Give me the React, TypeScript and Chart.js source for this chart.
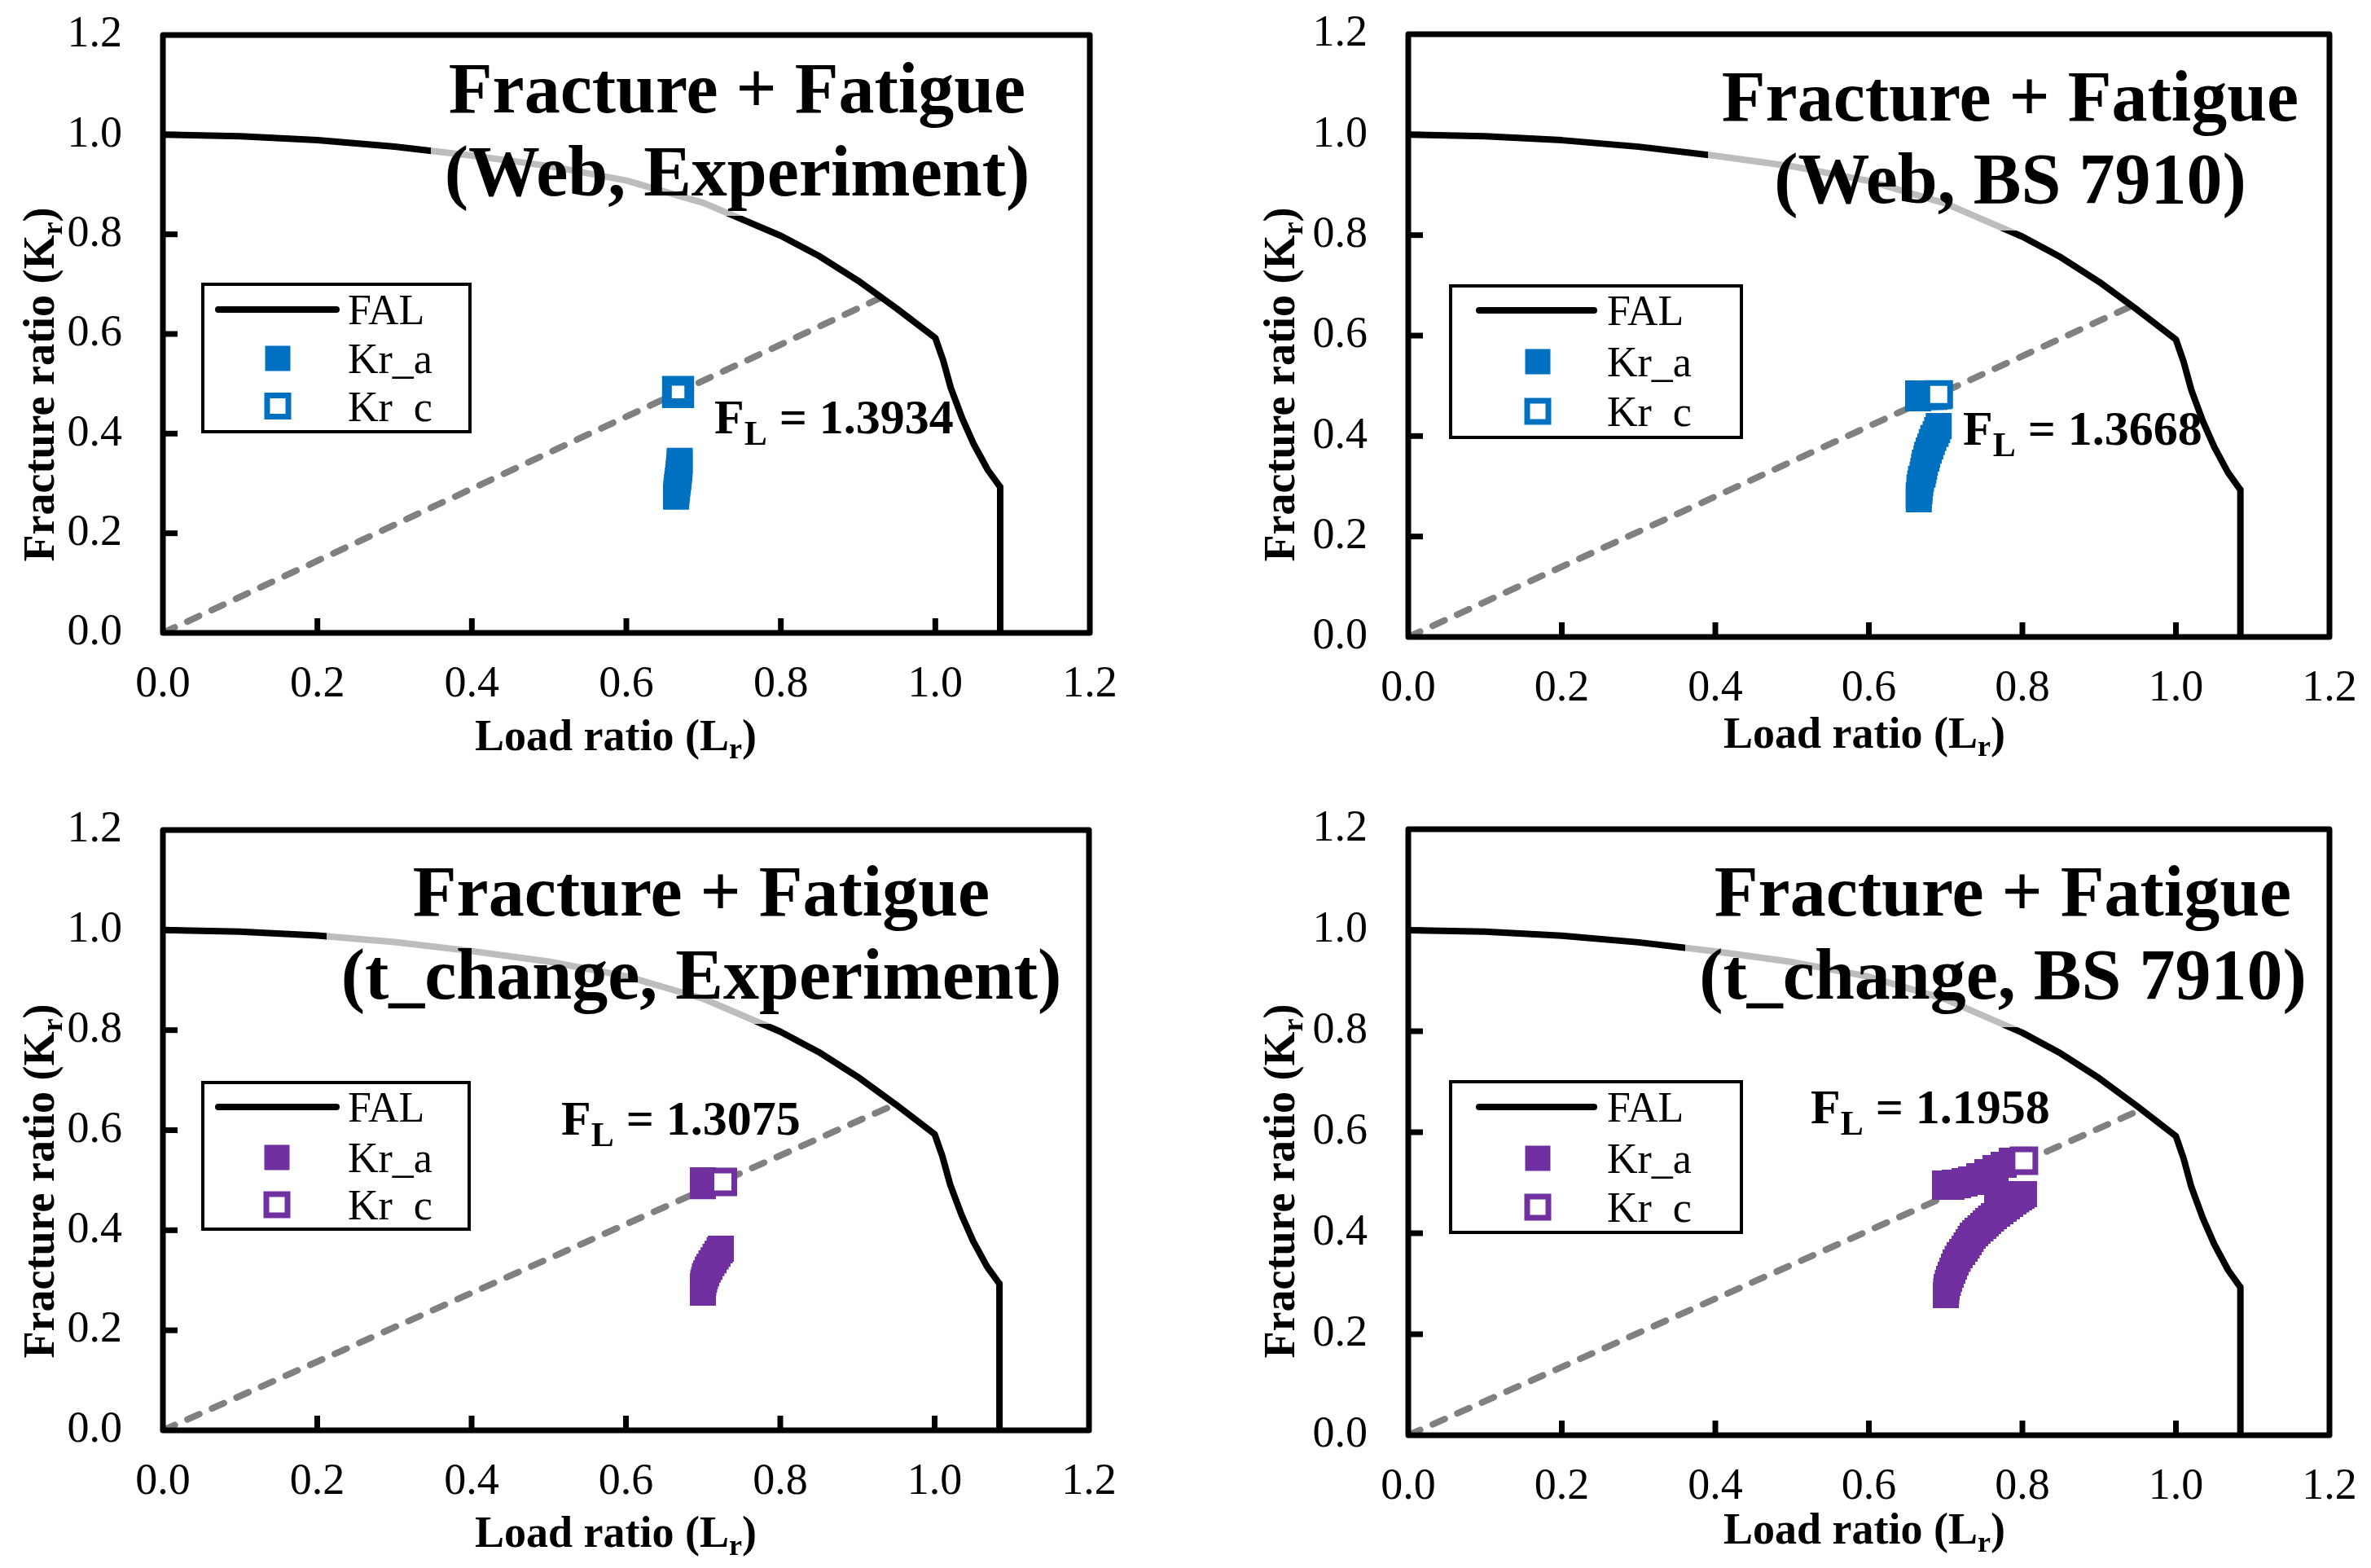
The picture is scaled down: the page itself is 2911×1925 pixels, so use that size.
import React, { useEffect, useRef } from 'react';
import { Chart, registerables } from 'chart.js';

Chart.register(...registerables);

const FONT = "'Liberation Serif', 'Times New Roman', Times, serif";

// ---------------- data ----------------
const axisTicks = [0, 0.2, 0.4, 0.6, 0.8, 1.0, 1.2];
const tickLabels = ['0.0', '0.2', '0.4', '0.6', '0.8', '1.0', '1.2'];

// Failure assessment line (same in all four panels)
const falLr = [0, 0.1, 0.2, 0.3, 0.4, 0.5, 0.6, 0.7, 0.8, 0.85, 0.9, 0.95, 1.0, 1.01, 1.02, 1.035, 1.05, 1.068, 1.084, 1.084];
const falKr = [1.0, 0.997, 0.989, 0.976, 0.958, 0.937, 0.908, 0.863, 0.797, 0.756, 0.707, 0.651, 0.592, 0.548, 0.492, 0.43, 0.378, 0.327, 0.293, 0.0];

// Web, Experiment
const webExpKraLr = [0.6643, 0.6647, 0.6651, 0.6656, 0.6661, 0.6667, 0.6672, 0.6677, 0.6681, 0.6686, 0.6689, 0.6691];
const webExpKraKr = [0.2732, 0.2798, 0.2863, 0.2928, 0.2994, 0.3059, 0.3125, 0.3190, 0.3256, 0.3321, 0.3387, 0.3452];
const webExpKrcLr = [0.667];
const webExpKrcKr = [0.4835];
const webExpRayLr = [0, 0.93];
const webExpRayKr = [0, 0.673];

// Web, BS 7910
const webBsKraLr = [0.665, 0.665, 0.666, 0.666, 0.667, 0.668, 0.670, 0.671, 0.672, 0.673, 0.675, 0.676, 0.678, 0.680, 0.682, 0.684, 0.687, 0.689, 0.691,
  0.6642, 0.6642, 0.6642, 0.6695, 0.6748, 0.6801, 0.6854, 0.6907];
const webBsKraKr = [0.274, 0.282, 0.290, 0.298, 0.306, 0.315, 0.323, 0.331, 0.339, 0.347, 0.355, 0.363, 0.371, 0.379, 0.388, 0.396, 0.404, 0.412, 0.420,
  0.475, 0.478, 0.485, 0.478, 0.478, 0.478, 0.478, 0.479];
const webBsKrcLr = [0.691];
const webBsKrcKr = [0.483];
const webBsRayLr = [0, 0.944];
const webBsRayKr = [0, 0.66];

// t_change, Experiment
const tExpKraLr = [0.6997, 0.6997, 0.6997, 0.7003, 0.7013, 0.7024, 0.7040, 0.7061, 0.7082, 0.7108, 0.7135, 0.7161, 0.7187, 0.7214, 0.7230,
  0.6997, 0.6997, 0.6997, 0.7050, 0.7103, 0.7156, 0.7208, 0.7240];
const tExpKraKr = [0.275, 0.282, 0.288, 0.295, 0.301, 0.308, 0.314, 0.321, 0.327, 0.334, 0.340, 0.347, 0.353, 0.360, 0.363,
  0.488, 0.495, 0.500, 0.495, 0.495, 0.495, 0.495, 0.495];
const tExpKrcLr = [0.7256];
const tExpKrcKr = [0.4966];
const tExpRayLr = [0, 0.948];
const tExpRayKr = [0, 0.651];

// t_change, BS 7910 (lower curved stroke, end block, upper bar)
const tBsKraLr = [0.7003, 0.7008, 0.7013, 0.7029, 0.7045, 0.7066, 0.7088, 0.7109, 0.7130, 0.7156, 0.7183, 0.7215, 0.7247, 0.7273, 0.7300,
  0.7326, 0.7353, 0.7385, 0.7416, 0.7454, 0.7491, 0.7523, 0.7554, 0.7592, 0.7629, 0.7671, 0.7714, 0.7756, 0.7798, 0.7841, 0.7883,
  0.7920, 0.7958, 0.7989, 0.8021,
  0.7671, 0.7756, 0.7830, 0.7905,
  0.6992, 0.7119, 0.7247, 0.7332, 0.7438, 0.7544, 0.7650, 0.7756, 0.7862,
  0.6992, 0.7077, 0.7162, 0.7247, 0.7332, 0.7448, 0.7544];
const tBsKraKr = [0.2774, 0.2855, 0.2935, 0.3016, 0.3097, 0.3177, 0.3258, 0.3339, 0.3419, 0.3492, 0.3565, 0.3629, 0.3694, 0.3758, 0.3823,
  0.3887, 0.3952, 0.4000, 0.4048, 0.4097, 0.4145, 0.4194, 0.4242, 0.4290, 0.4339, 0.4387, 0.4435, 0.4484, 0.4532, 0.4581, 0.4629,
  0.4669, 0.4710, 0.4742, 0.4774,
  0.4742, 0.4774, 0.4774, 0.4774,
  0.4984, 0.5000, 0.5032, 0.5065, 0.5129, 0.5210, 0.5290, 0.5355, 0.5435,
  0.4919, 0.4919, 0.4952, 0.4984, 0.5016, 0.5016, 0.5032];
const tBsKrcLr = [0.802];
const tBsKrcKr = [0.5435];
const tBsRayLr = [0, 0.955];
const tBsRayKr = [0, 0.645];

const BLUE = '#0070C0';
const PURPLE = '#7030A0';

type Box = { x: number; y: number; w: number; h: number };
type Panel = {
  title1: string; title2: string; fl: string; color: string;
  kraLr: number[]; kraKr: number[]; krcLr: number[]; krcKr: number[]; rayLr: number[]; rayKr: number[];
  canvas: Box; plot: { l: number; t: number; r: number; b: number };
  titleCx: number; title1Y: number; title2Y: number; overlay: Box;
  flX: number; flY: number;
  legend: { box: Box; lineX1: number; lineX2: number; rows: number[]; markerCx: number; textX: number };
  yTitle: { x: number; y: number }; xTitle: { x: number; y: number };
  krcR: number; krcBW: number;
};

const panels: Panel[] = [
  {
    title1: 'Fracture + Fatigue', title2: '(Web, Experiment)', fl: '1.3934', color: BLUE,
    kraLr: webExpKraLr, kraKr: webExpKraKr, krcLr: webExpKrcLr, krcKr: webExpKrcKr, rayLr: webExpRayLr, rayKr: webExpRayKr,
    canvas: { x: 0, y: 0, w: 1456, h: 962 }, plot: { l: 200, t: 43, r: 1338, b: 777 },
    titleCx: 905, title1Y: 138, title2Y: 240, overlay: { x: 529, y: 48, w: 760, h: 217 },
    flX: 877, flY: 532,
    legend: { box: { x: 249, y: 349, w: 328, h: 181 }, lineX1: 268, lineX2: 413, rows: [380, 440, 498.5], markerCx: 341, textX: 427 },
    yTitle: { x: 49, y: 472 }, xTitle: { x: 756, y: 904 },
    krcR: 19.4, krcBW: 12,
  },
  {
    title1: 'Fracture + Fatigue', title2: '(Web, BS 7910)', fl: '1.3668', color: BLUE,
    kraLr: webBsKraLr, kraKr: webBsKraKr, krcLr: webBsKrcLr, krcKr: webBsKrcKr, rayLr: webBsRayLr, rayKr: webBsRayKr,
    canvas: { x: 1456, y: 0, w: 1455, h: 962 }, plot: { l: 1729, t: 42, r: 2860, b: 782 },
    titleCx: 2468, title1Y: 148, title2Y: 249, overlay: { x: 2097, y: 47, w: 740, h: 236 },
    flX: 2410, flY: 546,
    legend: { box: { x: 1781, y: 351, w: 357, h: 186 }, lineX1: 1816, lineX2: 1957, rows: [381, 444, 505], markerCx: 1888, textX: 1973 },
    yTitle: { x: 1572, y: 472 }, xTitle: { x: 2289, y: 901 },
    krcR: 19.8, krcBW: 7,
  },
  {
    title1: 'Fracture + Fatigue', title2: '(t_change, Experiment)', fl: '1.3075', color: PURPLE,
    kraLr: tExpKraLr, kraKr: tExpKraKr, krcLr: tExpKrcLr, krcKr: tExpKrcKr, rayLr: tExpRayLr, rayKr: tExpRayKr,
    canvas: { x: 0, y: 962, w: 1456, h: 963 }, plot: { l: 200, t: 1019, r: 1337, b: 1756 },
    titleCx: 861, title1Y: 1124, title2Y: 1226, overlay: { x: 401, y: 1024, w: 930, h: 233 },
    flX: 689, flY: 1393,
    legend: { box: { x: 249, y: 1329, w: 327, h: 180 }, lineX1: 268, lineX2: 413, rows: [1359, 1421, 1479], markerCx: 340, textX: 427 },
    yTitle: { x: 49, y: 1450 }, xTitle: { x: 756, y: 1882 },
    krcR: 19.8, krcBW: 7,
  },
  {
    title1: 'Fracture + Fatigue', title2: '(t_change, BS 7910)', fl: '1.1958', color: PURPLE,
    kraLr: tBsKraLr, kraKr: tBsKraKr, krcLr: tBsKrcLr, krcKr: tBsKrcKr, rayLr: tBsRayLr, rayKr: tBsRayKr,
    canvas: { x: 1456, y: 962, w: 1455, h: 963 }, plot: { l: 1729, t: 1018, r: 2860, b: 1762 },
    titleCx: 2459, title1Y: 1124, title2Y: 1226, overlay: { x: 2069, y: 1023, w: 785, h: 238 },
    flX: 2223, flY: 1379,
    legend: { box: { x: 1781, y: 1328, w: 357, h: 185 }, lineX1: 1816, lineX2: 1957, rows: [1359, 1422, 1482], markerCx: 1888, textX: 1973 },
    yTitle: { x: 1572, y: 1450 }, xTitle: { x: 2289, y: 1878 },
    krcR: 19.8, krcBW: 7,
  },
];

const pts = (xs: number[], ys: number[]) => xs.map((x, i) => ({ x, y: ys[i] }));

type Seg = { t: string; size: number; dy?: number };
function drawRich(ctx: CanvasRenderingContext2D, segs: Seg[], x: number, y: number, align: 'left' | 'center', weight: string) {
  let total = 0;
  const widths = segs.map((s) => {
    ctx.font = `${weight} ${s.size}px ${FONT}`;
    const w = ctx.measureText(s.t).width;
    total += w;
    return w;
  });
  let cx = align === 'center' ? x - total / 2 : x;
  ctx.textAlign = 'left';
  ctx.textBaseline = 'alphabetic';
  segs.forEach((s, i) => {
    ctx.font = `${weight} ${s.size}px ${FONT}`;
    ctx.fillText(s.t, cx, y + (s.dy || 0));
    cx += widths[i];
  });
}

function makeConfig(p: Panel): any {
  const ox = p.canvas.x;
  const oy = p.canvas.y;
  const deco = {
    id: 'deco',
    afterDraw(chart: any) {
      const ctx: CanvasRenderingContext2D = chart.ctx;
      const xs = chart.scales.x;
      const ys = chart.scales.y;
      const { left, top, right, bottom } = chart.chartArea;
      ctx.save();
      // translucent text box behind the title
      ctx.fillStyle = 'rgba(255,255,255,0.74)';
      ctx.fillRect(p.overlay.x - ox, p.overlay.y - oy, p.overlay.w, p.overlay.h);
      // title
      ctx.fillStyle = '#000';
      ctx.font = `bold 88px ${FONT}`;
      ctx.textAlign = 'center';
      ctx.textBaseline = 'alphabetic';
      ctx.fillText(p.title1, p.titleCx - ox, p.title1Y - oy);
      ctx.fillText(p.title2, p.titleCx - ox, p.title2Y - oy);
      // F_L label
      drawRich(ctx, [{ t: 'F', size: 60 }, { t: 'L', size: 42, dy: 14 }, { t: ' = ' + p.fl, size: 60 }], p.flX - ox, p.flY - oy, 'left', 'bold');
      // inward tick marks
      ctx.strokeStyle = '#000';
      ctx.lineWidth = 7;
      ctx.lineCap = 'butt';
      axisTicks.forEach((v) => {
        if (v === 0 || v === 1.2) return;
        const px = xs.getPixelForValue(v);
        ctx.beginPath();
        ctx.moveTo(px, bottom);
        ctx.lineTo(px, bottom - 18);
        ctx.stroke();
        const py = ys.getPixelForValue(v);
        ctx.beginPath();
        ctx.moveTo(left, py);
        ctx.lineTo(left + 18, py);
        ctx.stroke();
      });
      // plot border
      ctx.lineJoin = 'round';
      ctx.lineWidth = 7;
      ctx.strokeRect(left, top, right - left, bottom - top);
      // axis titles
      ctx.fillStyle = '#000';
      drawRich(ctx, [{ t: 'Load ratio (L', size: 54 }, { t: 'r', size: 36, dy: 10 }, { t: ')', size: 54 }], p.xTitle.x - ox, p.xTitle.y - oy + 17, 'center', 'bold');
      ctx.save();
      ctx.translate(p.yTitle.x - ox, p.yTitle.y - oy);
      ctx.rotate(-Math.PI / 2);
      drawRich(ctx, [{ t: 'Fracture ratio (K', size: 54 }, { t: 'r', size: 36, dy: 10 }, { t: ')', size: 54 }], 0, 17, 'center', 'bold');
      ctx.restore();
      // legend
      const lg = p.legend;
      const bx = lg.box.x - ox;
      const by = lg.box.y - oy;
      ctx.fillStyle = '#fff';
      ctx.fillRect(bx, by, lg.box.w, lg.box.h);
      ctx.lineWidth = 4;
      ctx.strokeStyle = '#000';
      ctx.lineJoin = 'miter';
      ctx.strokeRect(bx, by, lg.box.w, lg.box.h);
      const r0 = lg.rows[0] - oy;
      const r1 = lg.rows[1] - oy;
      const r2 = lg.rows[2] - oy;
      ctx.lineWidth = 8;
      ctx.lineCap = 'round';
      ctx.beginPath();
      ctx.moveTo(lg.lineX1 - ox, r0);
      ctx.lineTo(lg.lineX2 - ox, r0);
      ctx.stroke();
      const mx = lg.markerCx - ox;
      ctx.fillStyle = p.color;
      ctx.fillRect(mx - 15.5, r1 - 15.5, 31, 31);
      ctx.fillStyle = '#fff';
      ctx.strokeStyle = p.color;
      ctx.lineWidth = 7;
      ctx.lineCap = 'butt';
      ctx.fillRect(mx - 13, r2 - 13, 26, 26);
      ctx.strokeRect(mx - 13, r2 - 13, 26, 26);
      ctx.fillStyle = '#000';
      ctx.font = `52px ${FONT}`;
      ctx.textAlign = 'left';
      ctx.textBaseline = 'alphabetic';
      ctx.fillText('FAL', lg.textX - ox, r0 + 18);
      ctx.fillText('Kr_a', lg.textX - ox, r1 + 18);
      ctx.save();
      ctx.beginPath();
      ctx.rect(lg.textX - ox - 5, r2 - 40, 200, 40 + 18 + 2);
      ctx.clip();
      ctx.fillText('Kr_c', lg.textX - ox, r2 + 18);
      ctx.restore();
      ctx.restore();
    },
  };

  const tickFont = { family: FONT, size: 54 };
  return {
    type: 'scatter',
    data: {
      datasets: [
        {
          label: 'Kr_c', data: pts(p.krcLr, p.krcKr), order: 0, showLine: false,
          pointStyle: 'rect', pointRadius: p.krcR, pointBackgroundColor: '#fff', pointBorderColor: p.color, pointBorderWidth: p.krcBW,
        },
        {
          label: 'Kr_a', data: pts(p.kraLr, p.kraKr), order: 1, showLine: false,
          pointStyle: 'rect', pointRadius: 22.6, pointBackgroundColor: p.color, pointBorderColor: p.color, pointBorderWidth: 0,
        },
        {
          label: 'FAL', data: pts(falLr, falKr), order: 2, showLine: true, borderColor: '#000', borderWidth: 8,
          pointRadius: 0, tension: 0, fill: false, borderJoinStyle: 'round',
        },
        {
          label: 'ray', data: pts(p.rayLr, p.rayKr), order: 3, showLine: true, borderColor: '#808080', borderWidth: 8,
          borderDash: [16, 17], borderCapStyle: 'round', pointRadius: 0, fill: false,
        },
      ],
    },
    options: {
      responsive: false,
      animation: false,
      devicePixelRatio: 1,
      events: [],
      layout: { padding: { top: p.plot.t - p.canvas.y, right: p.canvas.x + p.canvas.w - p.plot.r, left: 0, bottom: 0 } },
      plugins: { legend: { display: false }, tooltip: { enabled: false }, title: { display: false } },
      scales: {
        x: {
          type: 'linear', min: 0, max: 1.2,
          afterBuildTicks: (s: any) => { s.ticks = axisTicks.map((v) => ({ value: v })); },
          afterFit: (s: any) => { s.height = p.canvas.y + p.canvas.h - p.plot.b; },
          ticks: { callback: (_v: any, i: number) => tickLabels[i], font: tickFont, color: '#000', padding: 0, maxRotation: 0, minRotation: 0, autoSkip: false },
          grid: { display: true, drawOnChartArea: false, drawTicks: true, tickLength: 31, color: 'rgba(0,0,0,0)', tickColor: 'rgba(0,0,0,0)' },
          border: { display: false },
        },
        y: {
          type: 'linear', min: 0, max: 1.2,
          afterBuildTicks: (s: any) => { s.ticks = axisTicks.map((v) => ({ value: v })); },
          afterFit: (s: any) => { s.width = p.plot.l - p.canvas.x; },
          ticks: { callback: (_v: any, i: number) => tickLabels[i], font: tickFont, color: '#000', padding: 0, autoSkip: false },
          grid: { display: true, drawOnChartArea: false, drawTicks: true, tickLength: 50, color: 'rgba(0,0,0,0)', tickColor: 'rgba(0,0,0,0)' },
          border: { display: false },
        },
      },
    },
    plugins: [deco],
  };
}

function PanelChart({ p }: { p: Panel }) {
  const ref = useRef<HTMLCanvasElement>(null);
  useEffect(() => {
    const canvas = ref.current;
    if (!canvas) return;
    const chart = new Chart(canvas, makeConfig(p));
    return () => chart.destroy();
  }, [p]);
  return (
    <canvas
      ref={ref}
      width={p.canvas.w}
      height={p.canvas.h}
      style={{ position: 'absolute', left: p.canvas.x, top: p.canvas.y, width: p.canvas.w, height: p.canvas.h }}
    />
  );
}

export default function App() {
  return (
    <div style={{ position: 'fixed', left: 0, top: 0, width: 2911, height: 1925, background: '#fff', overflow: 'hidden' }}>
      {panels.map((p, i) => (
        <PanelChart key={i} p={p} />
      ))}
    </div>
  );
}
